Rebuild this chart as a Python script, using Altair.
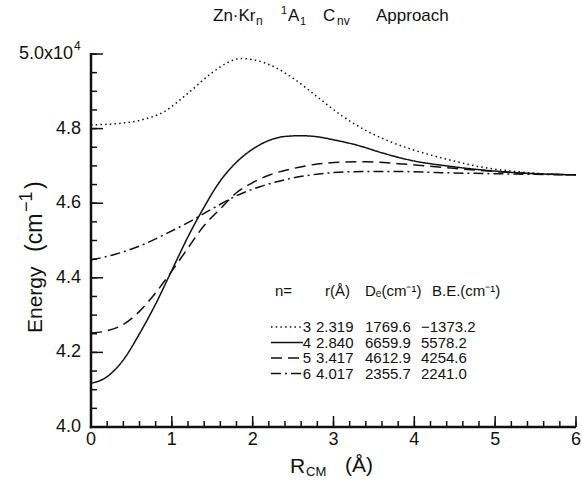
import altair as alt
import numpy as np
import pandas as pd

# Potential energy curves, R_CM in Å and energy in cm^-1, one series per cluster size n
r_n3 = [0.0, 0.3, 0.6, 0.9, 1.2, 1.5, 1.7, 1.85, 2.0, 2.2, 2.5, 2.8, 3.1, 3.4, 3.7, 4.0, 4.4, 4.8, 5.2, 5.6, 6.0]
e_n3 = [48100, 48130, 48220, 48450, 48950, 49500, 49780, 49880, 49850, 49720, 49350, 48850,
        48350, 47950, 47650, 47420, 47180, 46980, 46860, 46790, 46760]

r_n4 = [0.0, 0.2, 0.4, 0.6, 0.8, 1.0, 1.2, 1.4, 1.6, 1.8, 2.0, 2.2, 2.4, 2.6, 2.8, 3.0, 3.3, 3.6,
        4.0, 4.4, 5.0, 5.5, 6.0]
e_n4 = [41170, 41350, 41800, 42500, 43300, 44200, 45100, 45900, 46600, 47100, 47450, 47680,
        47790, 47810, 47780, 47700, 47550, 47350, 47130, 47000, 46860, 46790, 46760]

r_n5 = [0.0, 0.2, 0.4, 0.6, 0.8, 1.0, 1.2, 1.4, 1.6, 1.8, 2.0, 2.2, 2.5, 2.8, 3.1, 3.4, 3.8, 4.3,
        5.0, 5.5, 6.0]
e_n5 = [42520, 42580, 42750, 43100, 43600, 44180, 44800, 45400, 45850, 46280, 46550, 46750,
        46930, 47050, 47100, 47110, 47060, 46970, 46850, 46790, 46760]

r_n6 = [0.0, 0.3, 0.6, 0.9, 1.2, 1.5, 1.8, 2.1, 2.4, 2.7, 3.0, 3.4, 3.8, 4.3, 5.0, 6.0]
e_n6 = [44480, 44630, 44850, 45150, 45480, 45850, 46200, 46450, 46630, 46750, 46820, 46850,
        46850, 46820, 46790, 46760]

# Table of fitted parameters shown beside the curves
leg_n = ["3", "4", "5", "6"]
leg_r = [2.319, 2.840, 3.417, 4.017]
leg_de = [1769.6, 6659.9, 4612.9, 2355.7]
leg_be = [-1373.2, 5578.2, 4254.6, 2241.0]

# Axis ticks and their labels (the top y label carries a 10^4 multiplier)
x_major = [0, 1, 2, 3, 4, 5, 6]
x_labels = ["0", "1", "2", "3", "4", "5", "6"]
x_minor = [round(v, 1) for v in np.arange(0, 6.01, 0.2)]
y_major = [40000, 42000, 44000, 46000, 48000, 50000]
y_labels = ["4.0", "4.2", "4.4", "4.6", "4.8", "5.0x10"]
y_exponent = "4"
y_minor = [int(v) for v in np.arange(40000, 50001, 500)]

curves = pd.concat([
    pd.DataFrame({"n": "3", "r": r_n3, "e": e_n3}),
    pd.DataFrame({"n": "4", "r": r_n4, "e": e_n4}),
    pd.DataFrame({"n": "5", "r": r_n5, "e": e_n5}),
    pd.DataFrame({"n": "6", "r": r_n6, "e": e_n6}),
])
legend = pd.DataFrame({"n": leg_n, "r": leg_r, "de": leg_de, "be": leg_be})
one = pd.DataFrame({"k": [0]})

FONT = "Liberation Sans"
INK = "#111111"
W, H = 485, 373

xs = alt.Scale(domain=[0, 6], nice=False, zero=False)
ys = alt.Scale(domain=[40000, 50000], nice=False, zero=False)
dash = alt.Scale(domain=leg_n, range=[[1.5, 3.2], [1, 0], [11, 6], [10, 4, 2, 4]])

lines = alt.Chart(curves).mark_line(
    color=INK, strokeWidth=1.5, interpolate="monotone"
).encode(
    x=alt.X("r:Q", scale=xs, axis=None),
    y=alt.Y("e:Q", scale=ys, axis=None),
    strokeDash=alt.StrokeDash("n:N", scale=dash, legend=None),
    detail="n:N",
)


def label(text, x, y, size, align="left", baseline="alphabetic", angle=0):
    return alt.Chart(one).mark_text(
        text=text, font=FONT, fontSize=size, color=INK, align=align,
        baseline=baseline, angle=angle,
    ).encode(x=alt.value(x), y=alt.value(y))


# Axis lines
axes = [
    alt.Chart(one).mark_rule(color=INK, strokeWidth=2.5).encode(
        x=alt.value(0), y=alt.value(-1), y2=alt.value(H + 1.2)),
    alt.Chart(one).mark_rule(color=INK, strokeWidth=2.5).encode(
        x=alt.value(-1.2), x2=alt.value(W), y=alt.value(H)),
]


# Inward-pointing ticks
def xticks(vals, length):
    return alt.Chart(pd.DataFrame({"v": vals})).mark_rule(color=INK, strokeWidth=1.5).encode(
        x=alt.X("v:Q", scale=xs, axis=None), y=alt.value(H), y2=alt.value(H - length))


def yticks(vals, length):
    return alt.Chart(pd.DataFrame({"v": vals})).mark_rule(color=INK, strokeWidth=1.5).encode(
        y=alt.Y("v:Q", scale=ys, axis=None), x=alt.value(0), x2=alt.value(length))


xlab = alt.Chart(pd.DataFrame({"v": x_major, "t": x_labels})).mark_text(
    font=FONT, fontSize=18, color=INK, align="center", baseline="top"
).encode(x=alt.X("v:Q", scale=xs, axis=None), y=alt.value(H + 4), text="t:N")

ylab_src = alt.Chart(pd.DataFrame({"v": y_major, "t": y_labels}))
ylab = ylab_src.transform_filter(alt.datum.v < y_major[-1]).mark_text(
    font=FONT, fontSize=18, color=INK, align="right", baseline="middle"
).encode(y=alt.Y("v:Q", scale=ys, axis=None), x=alt.value(-10), text="t:N")
ylab_top = ylab_src.transform_filter(alt.datum.v == y_major[-1]).mark_text(
    font=FONT, fontSize=18, color=INK, align="right", baseline="middle"
).encode(y=alt.Y("v:Q", scale=ys, axis=None), x=alt.value(-18), text="t:N")
yexp = alt.Chart(pd.DataFrame({"v": [y_major[-1]]})).mark_text(
    text=y_exponent, font=FONT, fontSize=12, color=INK, align="left", baseline="middle",
    dy=-8,
).encode(y=alt.Y("v:Q", scale=ys, axis=None), x=alt.value(-17))

# Parameter table: header, then one row per n with a line sample
TS = 15
table = [
    label("n=", 184, 237, TS, baseline="middle"),
    label("r(Å)", 234, 237, TS, baseline="middle"),
    label("Dₑ(cm⁻¹)", 274, 237, TS, baseline="middle"),
    label("B.E.(cm⁻¹)", 341, 237, TS, baseline="middle"),
]
for i, n in enumerate(leg_n):
    yrow = 273 + i * 15.5
    row = alt.Chart(legend).transform_filter(alt.datum.n == n)
    table.append(row.mark_rule(color=INK, strokeWidth=1.5).encode(
        x=alt.value(180), x2=alt.value(212), y=alt.value(yrow),
        strokeDash=alt.StrokeDash("n:N", scale=dash, legend=None)))
    table.append(row.mark_text(font=FONT, fontSize=TS, color=INK, align="right",
                               baseline="middle").encode(
        x=alt.value(220), y=alt.value(yrow), text="n:N"))
    txt = row.mark_text(font=FONT, fontSize=TS, color=INK, align="left", baseline="middle")
    table.append(txt.encode(x=alt.value(225), y=alt.value(yrow), text=alt.Text("r:Q", format=".3f")))
    table.append(txt.encode(x=alt.value(274), y=alt.value(yrow), text=alt.Text("de:Q", format=".1f")))
    table.append(txt.encode(x=alt.value(330), y=alt.value(yrow), text=alt.Text("be:Q", format=".1f")))

# Title with sub- and superscripts
title = [
    label("Zn·Kr", 122, -33, 17),
    label("n", 165, -29, 12),
    label("1", 190, -40, 11),
    label("A", 197, -33, 17),
    label("1", 209, -29, 11),
    label("C", 232, -33, 17),
    label("nv", 246, -29, 12),
    label("Approach", 285, -33, 17),
]

# Axis titles; the vertical one is written bottom-to-top in pieces
titles = [
    label("R", 199, 419, 21),
    label("CM", 215, 422, 13),
    label("(Å)", 254, 418, 21),
    label("Energy", -49, 279, 21, angle=270),
    label("(cm", -49, 198, 23, angle=270),
    label("−1", -59, 158, 18, angle=270),
    label(")", -49, 135, 23, angle=270),
]

chart = alt.layer(
    lines,
    *axes,
    xticks(x_minor, 6), xticks(x_major, 11),
    yticks(y_minor, 6), yticks(y_major, 12),
    xlab, ylab, ylab_top, yexp,
    *table, *title, *titles,
).properties(
    width=W, height=H, background="white",
    autosize=alt.AutoSizeParams(type="none"),
    padding={"left": 91, "top": 54, "right": 6, "bottom": 53},
).configure_view(stroke=None)

chart.save("out.html", embed_options={"renderer": "svg", "actions": False})
